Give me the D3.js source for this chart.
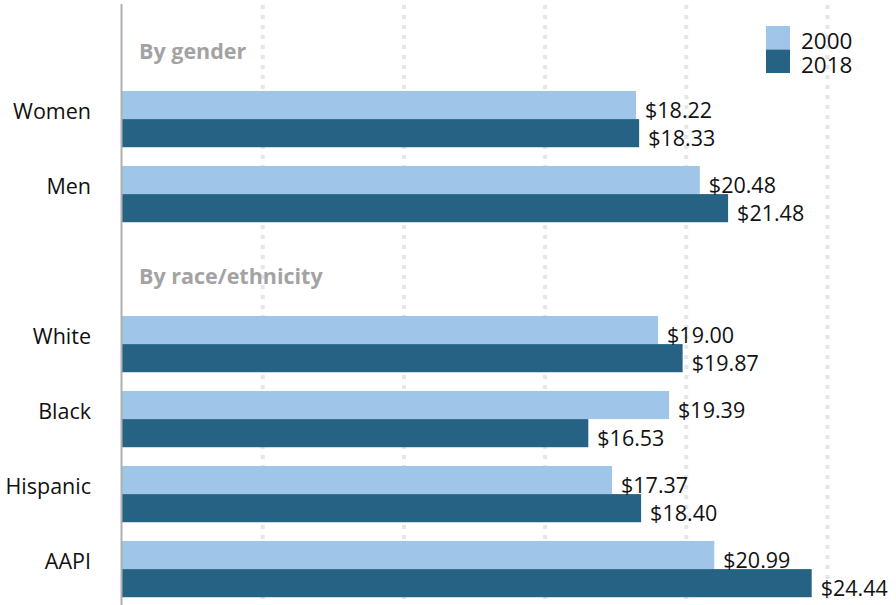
<!DOCTYPE html>
<html>
<head>
<meta charset="utf-8">
<script src="https://cdn.jsdelivr.net/npm/d3@7"></script>
<style>
  body { margin: 0; background: #fff; }
  svg { display: block; font-family: "Open Sans", sans-serif; }
</style>
</head>
<body>
<svg id="chart" width="896" height="605"></svg>
<script>
// rows in drawing order; section headers take a row of their own
const rowOrder = ['By gender', 'Women', 'Men', 'By race/ethnicity', 'White', 'Black', 'Hispanic', 'AAPI'];
const headers = ['By gender', 'By race/ethnicity'];
const categories = ['Women', 'Men', 'White', 'Black', 'Hispanic', 'AAPI'];
const years = ['2000', '2018'];
const wage2000 = [18.22, 20.48, 19.00, 19.39, 17.37, 20.99];
const wage2018 = [18.33, 21.48, 19.87, 16.53, 18.40, 24.44];
const xTicks = [5, 10, 15, 20, 25];

const colors = { '2000': '#9fc5e8', '2018': '#256283' };
const width = 896, height = 605;

const data = categories.map((c, i) => ({ cat: c, values: [
  { year: '2000', v: wage2000[i] },
  { year: '2018', v: wage2018[i] }
]}));

const svg = d3.select('#chart');

const x = d3.scaleLinear().domain([0, 25]).range([121.5, 827.5]);
const y = d3.scaleBand().domain(rowOrder)
  .range([6.6, 606.6]).paddingInner(0.25).paddingOuter(0.125);
const yInner = d3.scaleBand().domain(years).range([0, y.bandwidth()]);

// dotted gridlines
svg.append('g')
  .selectAll('line')
  .data(xTicks)
  .join('line')
  .attr('x1', d => x(d)).attr('x2', d => x(d))
  .attr('y1', 5).attr('y2', height)
  .attr('stroke', '#e6e6e6')
  .attr('stroke-width', 4)
  .attr('stroke-dasharray', '4,6');

// section headers
svg.append('g')
  .selectAll('text')
  .data(headers)
  .join('text')
  .attr('x', 139)
  .attr('y', d => y(d) + 43)
  .attr('fill', '#a3a3a3')
  .attr('font-weight', 700)
  .attr('font-size', 21.5)
  .text(d => d);

// bars
const groups = svg.append('g')
  .selectAll('g')
  .data(data)
  .join('g')
  .attr('transform', d => `translate(0,${y(d.cat)})`);

groups.selectAll('rect')
  .data(d => d.values)
  .join('rect')
  .attr('x', x(0) + 0.5)
  .attr('y', d => yInner(d.year))
  .attr('width', d => x(d.v) - x(0) - 0.5)
  .attr('height', yInner.bandwidth())
  .attr('fill', d => colors[d.year]);

groups.selectAll('text.value')
  .data(d => d.values)
  .join('text')
  .attr('class', 'value')
  .attr('x', d => x(d.v) + 9)
  .attr('y', d => yInner(d.year) + yInner.bandwidth() - 1)
  .attr('font-size', 21.5)
  .attr('fill', '#111')
  .text(d => d3.format('$.2f')(d.v));

// category labels
svg.append('g')
  .selectAll('text')
  .data(categories)
  .join('text')
  .attr('x', 91)
  .attr('y', d => y(d) + y.bandwidth() / 2)
  .attr('text-anchor', 'end')
  .attr('font-size', 21.5)
  .attr('fill', '#111')
  .text(d => d);

// axis line
svg.append('line')
  .attr('x1', x(0)).attr('x2', x(0))
  .attr('y1', 4).attr('y2', height)
  .attr('stroke', '#b0b0b0')
  .attr('stroke-width', 2);

// legend
const legend = svg.append('g').attr('transform', 'translate(766,26)');
const ly = d3.scaleBand().domain(years).range([0, 47]);
legend.selectAll('rect')
  .data(years)
  .join('rect')
  .attr('x', 0).attr('y', d => ly(d))
  .attr('width', 24).attr('height', ly.bandwidth())
  .attr('fill', d => colors[d]);
legend.selectAll('text')
  .data(years)
  .join('text')
  .attr('x', 35)
  .attr('y', d => ly(d) + ly.bandwidth() - 0.5)
  .attr('font-size', 22.5)
  .attr('fill', '#111')
  .text(d => d);
</script>
</body>
</html>
